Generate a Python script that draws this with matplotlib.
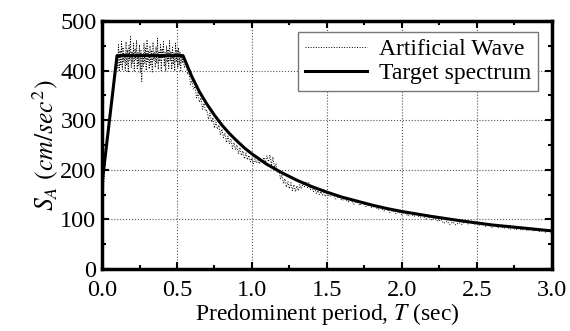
import numpy as np
import matplotlib
matplotlib.use("Agg")
import matplotlib.pyplot as plt

plt.rcParams['font.family'] = ['Liberation Serif', 'DejaVu Serif']
plt.rcParams['mathtext.fontset'] = 'stix'

# Target design spectrum
target_T = [0.0, 0.1, 0.54, 0.6, 0.65, 0.7, 0.75, 0.8, 0.85, 0.9, 0.95, 1.0,
            1.1, 1.2, 1.3, 1.4, 1.5, 1.6, 1.7, 1.8, 1.9, 2.0, 2.2, 2.4, 2.6,
            2.8, 3.0]
target_SA = [172, 430, 430, 387, 357, 332, 310, 290, 273, 258, 244, 232,
             211, 194, 179, 166, 155, 145, 137, 129, 122, 116, 106, 97, 89,
             83, 77]

# Artificial wave response spectrum, period grids
rise_T = np.round(np.arange(0.0, 0.0999, 0.01), 3)
plateau_T = np.round(np.arange(0.1, 0.5401, 0.005), 3)
decay_T = np.round(np.arange(0.55, 1.5001, 0.01), 3)
tail_T = np.round(np.arange(1.52, 3.0001, 0.02), 3)

rise_SA = [170, 160, 215, 240, 282, 295, 335, 345, 392, 410]
plateau_SA = [430, 405, 452, 398, 440, 412, 461, 402, 447, 418,
              435, 400, 458, 410, 442, 396, 450, 420, 468, 405,
              438, 414, 455, 399, 444, 422, 460, 404, 436, 410,
              452, 395, 440, 378, 432, 408, 456, 415, 445, 400,
              462, 418, 438, 403, 450, 412, 441, 397, 457, 420,
              436, 406, 448, 414, 465, 402, 439, 418, 452, 400,
              444, 424, 458, 408, 437, 398, 450, 416, 443, 404,
              460, 419, 438, 402, 449, 412, 436, 399, 455, 417,
              442, 405, 446, 410, 438, 400, 432, 415, 425]
decay_SA = [405, 420, 392, 398, 372, 380, 362, 368, 345, 355,
            336, 345, 322, 334, 318, 320, 302, 314, 296, 305,
            284, 296, 282, 290, 270, 282, 265, 274, 255, 268,
            252, 262, 243, 255, 240, 250, 232, 245, 229, 238,
            222, 234, 220, 229, 216, 224, 212, 222, 214, 220,
            212, 222, 214, 225, 215, 228, 216, 230, 210, 226,
            205, 212, 194, 200, 182, 190, 172, 182, 165, 176,
            162, 174, 158, 170, 156, 168, 158, 170, 162, 172,
            166, 175, 164, 174, 160, 168, 156, 162, 152, 158,
            150, 156, 149, 154, 146, 152]
tail_SA = [146, 150, 141, 146, 138, 142, 135, 139, 131, 136,
           128, 134, 126, 130, 123, 128, 120, 124, 117, 121,
           114, 118, 112, 116, 110, 115, 107, 112, 106, 110,
           104, 108, 101, 106, 99, 103, 96, 100, 92, 97,
           90, 95, 89, 94, 90, 95, 91, 94, 90, 92,
           88, 91, 86, 89, 84, 88, 83, 87, 82, 86,
           80, 84, 79, 83, 78, 82, 77, 81, 76, 80,
           75, 79, 74, 78, 73]

wave_T = np.concatenate([rise_T, plateau_T, decay_T, tail_T])
wave_SA = np.concatenate([rise_SA, plateau_SA, decay_SA, tail_SA])

fig = plt.figure(figsize=(5.7, 3.31), dpi=100)
ax = fig.add_axes([0.179, 0.187, 0.789, 0.750])

ax.plot(wave_T, wave_SA, linestyle=':', color='black', linewidth=0.7,
        label='Artificial Wave', zorder=2)
ax.plot(target_T, target_SA, color='black', linewidth=2.2,
        label='Target spectrum', zorder=3)

ax.set_xlim(0, 3.0)
ax.set_ylim(0, 500)
ax.set_xticks(np.arange(0, 3.01, 0.5))
ax.set_xticks(np.arange(0, 3.01, 0.25), minor=True)
ax.set_yticks(np.arange(0, 501, 100))
ax.set_yticks(np.arange(0, 501, 50), minor=True)
ax.xaxis.set_major_formatter(matplotlib.ticker.FormatStrFormatter('%.1f'))
ax.grid(True, which='major', linestyle=':', color='#555555', linewidth=0.8)

ax.tick_params(which='both', direction='in', top=True, right=True,
               labelsize=17.5, width=1.5)
ax.tick_params(which='major', length=5)
ax.tick_params(axis='x', which='major', pad=8)
ax.tick_params(axis='y', which='major', pad=4)
ax.tick_params(which='minor', length=3)
for t in ax.get_yticklabels():
    t.set_verticalalignment('center_baseline')
for sp in ax.spines.values():
    sp.set_linewidth(2.5)

ax.set_xlabel('Predominent period, $T$ (sec)', fontsize=17, labelpad=0)
ax.set_ylabel('$S_A$ $(cm/sec^2)$', fontsize=18.5, labelpad=0)

leg = ax.legend(loc='upper right', fontsize=17, handlelength=2.6,
                fancybox=False, framealpha=1, edgecolor='#777777',
                borderpad=0.3, labelspacing=0.1, handletextpad=0.5,
                borderaxespad=0.3, bbox_to_anchor=(0.985, 0.985))
leg.get_frame().set_linewidth(1.0)

fig.savefig('out.png', dpi=100)
